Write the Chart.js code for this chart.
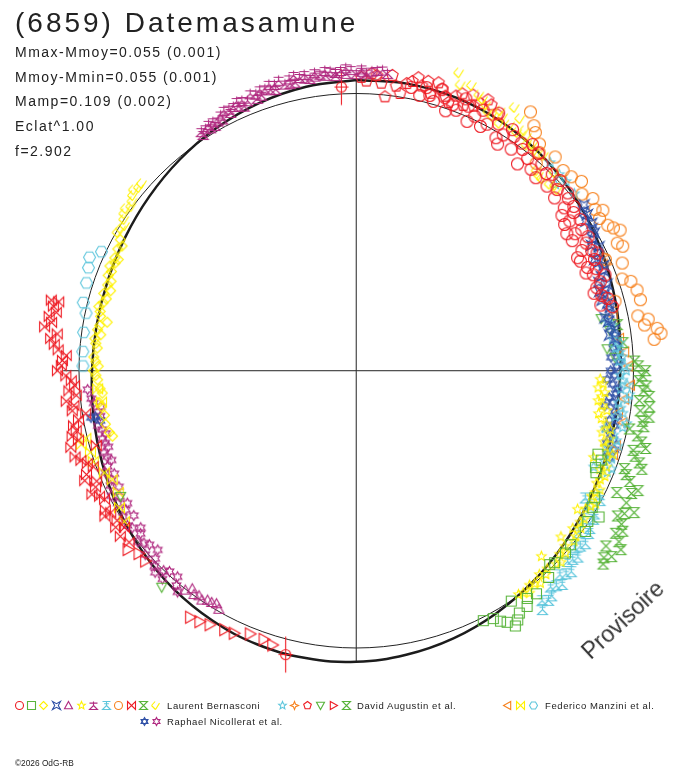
<!DOCTYPE html>
<html>
<head>
    <meta charset="utf-8">
    <style>
        body, html {
            margin: 0;
            padding: 0;
            background: #fff;
        }

        #container {
            position: relative;
            width: 688px;
            height: 768px;
            overflow: hidden;
            font-family: "Liberation Sans", Arial, sans-serif;
            color: #222;
        }

        #container canvas {
            position: absolute;
            left: 0;
            top: 0;
        }

        .txt {
            position: absolute;
            white-space: nowrap;
            line-height: 1;
        }

        #title { left: 15px; top: 9px; font-size: 28px; letter-spacing: 3px; }
        .stat { left: 15px; font-size: 14px; letter-spacing: 1.5px; }
        .leg { font-size: 9.5px; letter-spacing: 0.6px; }
        #copy { left: 15px; top: 759px; font-size: 8.3px; }
        #stamp {
            left: 623px; top: 620px; font-size: 23px; color: #333;
            transform: translate(-50%, -50%) rotate(-43deg);
        }
    </style>
    <script src="https://cdn.jsdelivr.net/npm/chart.js"></script>
</head>
<body>
    <div id="container">
        <canvas id="polarChart" width="688" height="768"></canvas>
        <div id="title" class="txt"></div>
        <div id="stats"></div>
        <div id="legendText"></div>
        <div id="stamp" class="txt">Provisoire</div>
        <div id="copy" class="txt">©2026 OdG-RB</div>
    </div>

    <script>
        // ---- text ----
        const chartTitle = "(6859) Datemasamune";
        const statLines = [
            "Mmax-Mmoy=0.055 (0.001)",
            "Mmoy-Mmin=0.055 (0.001)",
            "Mamp=0.109 (0.002)",
            "Eclat^1.00",
            "f=2.902"
        ];
        const observers = ["Laurent Bernasconi", "David Augustin et al.", "Federico Manzini et al.", "Raphael Nicollerat et al."];

        // ---- data: [rotation phase (deg), magnitude offset (mag)] ----
        const lbCircleRed = [[11,.045],[13,.020],[14,.058],[15,.030],[16,.010],[17,.067],[18,.040],[19,-.012],[20,.022],
            [21,.005],[22,.064],[23,.040],[24,-.020],[25,.013],[26,.050],[27,-.015],[28,.006],[29,.069],[30,.030],[31,-.025],
            [32,.001],[32,-.044],[33,.040],[34,.020],[35,-.030],[36,.015],[37,-.003],[38,.038],[38,-.064],[39,-.020],
            [40,.025],[41,-.045],[42,.001],[43,-.058],[44,-.015],[45,.000],[46,-.050],[47,.005],[48,-.029],[49,-.060],
            [50,-.005],[51,-.018],[52,-.055],[53,-.082],[53,-.020],[54,-.036],[55,-.069],[55,-.095],[56,-.030],[57,-.109],
            [58,-.047],[58,-.080],[59,-.105],[60,-.040],[61,-.060],[62,-.090],[63,-.054],[63,-.120],[64,-.116],[64,-.039],
            [65,-.060],[66,-.100],[67,-.069],[67,-.115],[68,-.090],[69,-.045],[70,-.073],[71,-.095],[72,-.113],[73,-.085],
            [74,-.065],[75,-.100],[76,-.055]];
        const lbSquareGreen = [[109,-.090],[110,-.069],[112,-.080],[113,-.070],[118,-.030],[120,-.020],[121,.025],[123,-.005],
            [125,.010],[129,-.006],[131,.000],[134,-.006],[135,-.015],[137,.020],[141,.038],[143,.030],[144,.056],[146,.060],
            [146,.000],[147,.080],[148,.096],[149,.065],[150,.047],[151,.023],[153,.011]];
        const lbDiamondYellow = [[255,-.104],[256,-.095],[258,-.087],[260,-.090],[262,-.082],[263,-.075],[265,-.093],[266,-.085],
            [268,-.077],[269,-.070],[270,-.060],[271,-.080],[272,-.069],[273,-.060],[275,-.072],[276,-.064],[277,-.058],
            [278,-.080],[279,-.064],[280,-.070],[281,-.098],[282,-.066],[283,-.060],[284,-.050],[285,-.063],[286,-.072],
            [287,-.055],[288,-.079],[289,-.060],[290,-.068],[291,-.048],[292,-.055],[293,-.040],[294,-.055],[295,-.045],
            [295,-.061],[297,-.040],[298,-.050],[299,-.031]];
        const lbConcaveBlue = [[54,.018],[55,.000],[56,.007],[57,-.015],[58,.002],[59,-.009],[60,-.009],[61,-.028],[62,-.045],
            [63,-.020],[64,-.036],[65,-.060],[66,-.049],[67,-.034],[68,-.045],[69,-.062],[70,-.080],[71,-.050],[72,-.064],
            [72,-.089],[73,-.075],[74,-.090],[75,-.071],[76,-.065],[77,-.075],[78,-.096],[79,-.085],[80,-.078],[81,-.065],
            [82,-.090],[83,-.069]];
        const lbTriMagenta = [[210,-.010],[211,-.025],[212,-.019],[213,-.018],[214,-.005],[215,-.013],[216,-.005],[217,-.020],[218,.002]];
        const lbStarYellow = [[92,-.138],[93,-.125],[94,-.145],[95,-.115],[96,-.128],[97,-.140],[98,-.120],[99,-.098],
            [100,-.130],[101,-.115],[102,-.090],[103,-.069],[104,-.100],[105,-.060],[106,-.083],[107,-.070],[108,-.032],
            [109,-.050],[110,-.103],[111,-.038],[112,-.060],[113,-.030],[114,-.042],[115,-.050],[116,-.025],[117,-.038],
            [118,-.045],[119,-.015],[120,-.027],[121,-.040],[122,-.068],[123,-.023],[124,-.030],[125,-.013],[126,-.040],
            [127,-.010],[128,-.004],[129,-.058],[130,-.020],[131,.000],[132,-.015],[133,.012],[134,.002],[135,-.064],
            [136,-.010],[137,.003],[138,-.015],[139,.015],[140,.001],[141,-.008],[142,.018],[143,.001],[144,-.005]];
        const lbStemMagenta = [[327,.016],[327,.030],[328,.031],[329,.023],[329,.040],[330,.040],[330,.022],[331,.032],
            [332,.049],[332,.030],[333,.060],[334,.040],[334,.055],[335,.057],[336,.049],[336,.070],[337,.065],[337,.040],
            [338,.055],[339,.078],[340,.069],[340,.050],[341,.056],[341,.080],[342,.077],[343,.066],[343,.090],[344,.083],
            [344,.062],[345,.095],[346,.073],[347,.090],[347,.070],[348,.071],[348,.100],[349,.087],[350,.080],[350,.095],
            [351,.075],[352,.096],[352,.082],[353,.087],[354,.080],[354,.100],[355,.095],[356,.088],[356,.075],[357,.095],
            [358,.082],[358,.105],[359,.097],[0,.080],[1,.090],[1,.100],[2,.083],[3,.092],[4,.096],[5,.100],[6,.088]];
        const lbStemCyan = [[117,-.020],[118,-.005],[119,-.064],[120,-.040],[121,.001],[122,.010],[123,-.025],[124,.018],
            [125,.025],[126,-.010],[127,.040],[128,.029],[129,.015],[130,.050],[131,.040],[132,.030],[133,.070],[134,.060],
            [135,.045],[136,.080],[137,.067],[138,.055],[139,.085],[140,.091],[141,.075],[142,.105]];
        const lbCircleOrange = [[34,.143],[36,.104],[37,.085],[39,.058],[40,.030],[41,-.012],[43,.060],[46,.043],[48,.050],
            [50,.070],[52,.038],[54,.063],[56,.045],[57,.070],[58,.040],[60,.055],[61,.070],[62,.090],[64,.055],[65,.070],
            [66,-.019],[68,.040],[71,.016],[72,.048],[74,.062],[75,-.039],[76,.065],[79,.040],[80,.080],[81,.061],[82,.111],
            [83,.124],[84,.093]];
        const lbBowtieRed = [[233,.030],[235,.045],[236,.010],[237,.040],[238,.020],[240,.026],[240,.054],[241,.040],[243,.022],
            [244,.035],[245,.060],[246,.034],[247,.020],[248,.065],[249,.049],[250,.011],[251,.030],[252,.051],[253,.070],
            [254,-.028],[255,.076],[256,.038],[257,.060],[258,.038],[259,.045],[260,.020],[261,-.014],[262,.040],[263,.030],
            [264,.060],[265,.016],[266,.045],[267,.020],[268,.033],[269,.055],[270,.090],[271,.074],[272,.070],[273,.055],
            [274,.090],[275,.108],[276,.125],[277,.100],[278,.156],[279,.130],[280,.144],[281,.118],[282,.135],[283,.149],[283,.117]];
        const lbHourglassGreen = [[88,.005],[89,.020],[90,.050],[91,.037],[92,.025],[93,.055],[94,.045],[95,.070],[96,.031],
            [97,.076],[98,.040],[99,.080],[100,.055],[101,.065],[102,.009],[103,.048],[104,.070],[105,.093],[106,.045],
            [107,.060],[108,.085],[109,.103],[110,.034],[111,.050],[112,.074],[113,.120],[114,.100],[115,.043],[116,.097],
            [117,.144],[118,.110],[119,.090],[120,.121],[121,.140],[122,.120],[123,.150],[124,.175],[125,.115],[126,.160],
            [127,.137],[128,.150]];
        const lbCheckYellow = [[19,.155],[20,.110],[22,.124],[24,.100],[25,.089],[26,.075],[27,.053],[28,.045],[29,.080],
            [30,.033],[30,.064],[31,.122],[32,.050],[33,.095],[34,.040],[35,.063],[36,.050],[37,.020],[38,.037],[39,.025],
            [41,.032],[42,-.035],[43,-.043],[44,-.045],[45,.010],[46,-.038],[47,-.025],[48,-.030],[300,-.005],[301,-.010],
            [302,-.016],[303,.000],[304,.013],[305,.020],[306,.006],[307,.015],[308,.028],[309,.040],[310,.030],[311,.031]];

        const daStarCyan = [[43,.029],[46,.020],[47,-.020],[48,.021],[51,.014],[79,-.090],[80,-.075],[82,-.068],[83,-.080],
            [84,-.050],[85,-.070],[86,-.054],[87,-.045],[88,-.060],[89,-.037],[90,-.030],[91,-.055],[92,-.044],[93,-.025],
            [94,-.050],[95,-.012],[96,-.020],[97,-.055],[98,-.042],[99,-.030],[100,-.060],[101,-.007],[102,-.020],
            [103,-.091],[104,-.050],[105,-.033],[106,-.020],[107,-.060],[108,-.044],[109,-.030],[110,-.055],[111,-.015],
            [112,-.027],[112,-.088]];
        const daStar4Orange = [[65,-.018],[67,-.020]];
        const daPentagonRed = [[1,.065],[2,.050],[3,.082],[4,.075],[5,.045],[6,-.010],[7,.082],[8,.040],[9,.012],[10,.057],
            [11,.070],[12,.090],[13,.060],[14,.085],[15,.039],[16,.090],[17,.070],[18,.045],[19,.024],[20,.060],[21,.078],
            [22,.035],[23,.090],[24,.049],[25,.070],[26,.098],[27,.085],[29,.061]];
        const daTriDownGreen = [[78,-.112],[81,-.085],[85,-.106],[87,-.076],[222,.056],[242,-.043]];
        const daTriRightRed = [[197,.037],[199,.026],[202,.025],[205,.049],[207,.053],[210,.064],[212,.075],[214,.081],
            [228,.027],[230,.027],[232,.052]];
        const daHourglassGreen = [[80,-.051],[84,-.038]];

        const fmTriLeftOrange = [[78,-.061],[83,-.050],[86,-.034],[89,-.020],[93,-.011],[96,-.031],[99,-.049],[101,-.023],
            [106,-.028],[108,-.028]];
        const fmBowtieYellow = [[237,-.003],[240,-.016],[243,-.042],[246,-.042],[248,-.023],[251,.004],[253,.003],[255,.031],
            [256,.006],[263,-.086],[266,-.075]];
        const fmHexCyan = [[271,-.016],[274,-.013],[278,-.008],[282,-.004],[284,.017],[288,.027],[291,.040],[293,.052],[295,.016]];

        const rnHexagramBlue = [[84,-.064],[85,-.080],[86,-.060],[87,-.092],[88,-.056],[89,-.070],[90,-.095],[91,-.078],
            [92,-.109],[93,-.085],[94,-.062],[95,-.070],[96,-.095],[97,-.077],[98,-.109],[99,-.065],[100,-.051],[101,-.080],
            [102,-.055],[103,-.085],[104,-.062],[105,-.045],[106,-.070],[107,-.030],[108,-.055],[109,-.038],[259,-.069],
            [260,-.033],[260,-.051]];
        const rnStar6Magenta = [[219,.028],[220,.010],[221,-.020],[223,.029],[223,-.014],[224,.000],[225,.030],[226,.014],
            [227,-.010],[228,-.042],[229,.010],[230,-.030],[231,-.017],[232,.000],[233,-.030],[234,-.045],[235,-.016],
            [236,-.005],[237,-.050],[238,-.009],[239,-.035],[240,-.054],[241,-.019],[242,-.040],[243,-.010],[244,-.055],
            [245,-.025],[246,-.040],[247,-.060],[248,-.027],[249,-.045],[250,-.070],[251,-.057],[252,-.050],[253,-.075],
            [254,-.067],[255,-.060],[256,-.080],[257,-.069],[258,-.055],[260,-.073],[261,-.065],[262,-.080],[263,-.053],
            [264,-.045],[266,-.033]];
        const flaggedRed = [[357,.026],[194,.061]];

        // fitted lightcurve (model), every 10 deg of rotation phase
        const modelCurve = [[0,.054],[10,.057],[20,.054],[30,.044],[40,.029],[50,.010],[60,-.010],[70,-.029],[80,-.044],
            [90,-.054],[100,-.057],[110,-.054],[120,-.044],[130,-.029],[140,-.010],[150,.010],[160,.029],[170,.044],
            [180,.055],[190,.058],[200,.055],[210,.044],[220,.029],[230,.010],[240,-.010],[250,-.029],[260,-.044],
            [270,-.054],[280,-.057],[290,-.054],[300,-.044],[310,-.029],[320,-.010],[330,.010],[340,.029],[350,.044],[360,.054]];

        // ---- plot geometry / styles ----
        const MAG_SCALE = 245 / 283;   // radius units per magnitude
        const COL = {
            red: "#ee1c24", green: "#58b43a", yellow: "#fff200", blue: "#2e4fa6",
            magenta: "#b02a80", cyan: "#5ec6dc", orange: "#f7821e"
        };

        function makeMarker(shape, color, s) {
            const w = 2 * Math.ceil(s) + 5;
            const h = shape === "flag" ? 41 : w;
            const cv = document.createElement("canvas");
            cv.width = w;
            cv.height = h;
            const g = cv.getContext("2d");
            g.translate(w / 2, h / 2);
            g.strokeStyle = color;
            g.lineWidth = 1.1;
            const poly = (pts) => {
                g.beginPath();
                pts.forEach((p, i) => i ? g.lineTo(p[0], p[1]) : g.moveTo(p[0], p[1]));
                g.closePath();
                g.stroke();
            };
            const lines = (segs) => {
                g.beginPath();
                segs.forEach(sg => { g.moveTo(sg[0], sg[1]); g.lineTo(sg[2], sg[3]); });
                g.stroke();
            };
            const ngon = (k, r, rot) => Array.from({length: k}, (_, i) => {
                const a = rot + i * 2 * Math.PI / k;
                return [r * Math.sin(a), -r * Math.cos(a)];
            });
            const star = (k, ro, ri) => Array.from({length: 2 * k}, (_, i) => {
                const r = i % 2 ? ri : ro, a = i * Math.PI / k;
                return [r * Math.sin(a), -r * Math.cos(a)];
            });
            switch (shape) {
                case "circle": g.beginPath(); g.arc(0, 0, s, 0, 2 * Math.PI); g.stroke(); break;
                case "square": poly([[-s, -s], [s, -s], [s, s], [-s, s]]); break;
                case "diamond": poly([[0, -s], [s, 0], [0, s], [-s, 0]]); break;
                case "concave4": poly([[-s, -s], [0, -s * 0.45], [s, -s], [s * 0.45, 0], [s, s], [0, s * 0.45], [-s, s], [-s * 0.45, 0]]); break;
                case "triangle": poly([[0, -s], [s, s * 0.8], [-s, s * 0.8]]); break;
                case "triDown": poly([[-s, -s * 0.8], [s, -s * 0.8], [0, s]]); break;
                case "triRight": poly([[-s * 0.8, -s], [s, 0], [-s * 0.8, s]]); break;
                case "triLeft": poly([[s * 0.8, -s], [-s, 0], [s * 0.8, s]]); break;
                case "star5": poly(star(5, s, s * 0.45)); break;
                case "star4": poly(star(4, s, s * 0.4)); break;
                case "star6": poly(star(6, s, s * 0.55)); break;
                case "pentagon": poly(ngon(5, s, 0)); break;
                case "hexagon": poly(ngon(6, s, Math.PI / 6)); break;
                case "hexagram": poly(ngon(3, s, 0)); poly(ngon(3, s, Math.PI)); break;
                case "bowtie": poly([[-s, -s], [s, s], [s, -s], [-s, s]]); break;
                case "hourglass": poly([[-s, -s], [s, -s], [-s, s], [s, s]]); break;
                case "check": lines([[-s * 0.1, -s, -s, 0], [-s, 0, 0, s], [0, s, s, -s * 0.6]]); break;
                case "stemTri":
                    poly([[0, 0], [s, s], [-s, s]]);
                    lines([[0, 0, 0, -s], [-s, -s * 0.6, s, -s * 0.6]]);
                    break;
                case "stemTri2":
                    poly([[0, 0], [s, s], [-s, s]]);
                    lines([[0, 0, 0, -s], [-s, -s, s, -s], [-s * 0.6, -s * 0.45, s * 0.6, -s * 0.45]]);
                    break;
                case "flag":
                    g.beginPath(); g.arc(0, 0, s, 0, 2 * Math.PI); g.stroke();
                    lines([[0, -18, 0, 18], [-s - 2, 0, s + 2, 0]]);
                    break;
            }
            return cv;
        }

        const series = [
            {data: lbCircleRed, color: COL.red, shape: "circle", size: 6},
            {data: lbSquareGreen, color: COL.green, shape: "square", size: 5},
            {data: lbDiamondYellow, color: COL.yellow, shape: "diamond", size: 5},
            {data: lbConcaveBlue, color: COL.blue, shape: "concave4", size: 5},
            {data: lbTriMagenta, color: COL.magenta, shape: "triangle", size: 5},
            {data: lbStarYellow, color: COL.yellow, shape: "star5", size: 5},
            {data: lbStemMagenta, color: COL.magenta, shape: "stemTri", size: 5},
            {data: lbStemCyan, color: COL.cyan, shape: "stemTri2", size: 5},
            {data: lbCircleOrange, color: COL.orange, shape: "circle", size: 6},
            {data: lbBowtieRed, color: COL.red, shape: "bowtie", size: 5},
            {data: lbHourglassGreen, color: COL.green, shape: "hourglass", size: 5},
            {data: lbCheckYellow, color: COL.yellow, shape: "check", size: 5},
            {data: daStarCyan, color: COL.cyan, shape: "star5", size: 5},
            {data: daStar4Orange, color: COL.orange, shape: "star4", size: 5},
            {data: daPentagonRed, color: COL.red, shape: "pentagon", size: 6},
            {data: daTriDownGreen, color: COL.green, shape: "triDown", size: 5},
            {data: daTriRightRed, color: COL.red, shape: "triRight", size: 6},
            {data: daHourglassGreen, color: COL.green, shape: "hourglass", size: 5},
            {data: fmTriLeftOrange, color: COL.orange, shape: "triLeft", size: 5},
            {data: fmBowtieYellow, color: COL.yellow, shape: "bowtie", size: 5},
            {data: fmHexCyan, color: COL.cyan, shape: "hexagon", size: 6},
            {data: rnHexagramBlue, color: COL.blue, shape: "hexagram", size: 5},
            {data: rnStar6Magenta, color: COL.magenta, shape: "star6", size: 5},
            {data: flaggedRed, color: COL.red, shape: "flag", size: 5}
        ];

        // legend rows: observer index, first marker x, row centre y, series indexes
        const legendRows = [
            {obs: 0, x: 19, y: 705, step: 12.45, items: [0, 1, 2, 3, 4, 5, 6, 7, 8, 9, 10, 11], textX: 167},
            {obs: 1, x: 282, y: 705, step: 12.8, items: [12, 13, 14, 15, 16, 17], textX: 357},
            {obs: 2, x: 507, y: 705, step: 13, items: [18, 19, 20], textX: 545},
            {obs: 3, x: 144, y: 721, step: 12.45, items: [21, 22], textX: 167}
        ];

        function toXY(p) {
            const r = 1 + p[1] * MAG_SCALE;
            const a = p[0] * Math.PI / 180;
            return {x: r * Math.sin(a), y: r * Math.cos(a)};
        }

        // ---- text overlay ----
        document.getElementById("title").textContent = chartTitle;
        const statsBox = document.getElementById("stats");
        statLines.forEach((s, i) => {
            const d = document.createElement("div");
            d.className = "txt stat";
            d.style.top = (44.8 + i * 24.75) + "px";
            d.textContent = s;
            statsBox.appendChild(d);
        });
        const legendBox = document.getElementById("legendText");
        legendRows.forEach(row => {
            const d = document.createElement("div");
            d.className = "txt leg";
            d.style.left = row.textX + "px";
            d.style.top = (row.y - 4) + "px";
            d.textContent = observers[row.obs];
            legendBox.appendChild(d);
        });

        // ---- chart ----
        series.forEach(s => {
            s.marker = makeMarker(s.shape, s.color, s.size);
            s.legendMarker = makeMarker(s.shape, s.color, 4);
        });

        const frame = {
            id: "frame",
            beforeDatasetsDraw(chart) {
                const ctx = chart.ctx, sx = chart.scales.x, sy = chart.scales.y;
                const cx = sx.getPixelForValue(0), cy = sy.getPixelForValue(0);
                const R = sx.getPixelForValue(1) - cx;
                ctx.save();
                ctx.strokeStyle = "#222";
                ctx.lineWidth = 1;
                ctx.beginPath();
                ctx.arc(cx, cy, R, 0, 2 * Math.PI);
                ctx.moveTo(sx.getPixelForValue(-1.057), cy);
                ctx.lineTo(sx.getPixelForValue(1.057), cy);
                ctx.moveTo(cx, sy.getPixelForValue(1.046));
                ctx.lineTo(cx, sy.getPixelForValue(-1.049));
                ctx.stroke();
                ctx.restore();
            },
            afterDraw(chart) {
                const ctx = chart.ctx;
                legendRows.forEach(row => {
                    row.items.forEach((k, i) => {
                        const m = series[k].legendMarker;
                        ctx.drawImage(m, Math.round(row.x + i * row.step - m.width / 2), Math.round(row.y - m.height / 2));
                    });
                });
            }
        };

        const datasets = [{
            type: "line",
            label: "model",
            data: modelCurve.map(toXY),
            showLine: true,
            borderColor: "#1c1c1c",
            borderWidth: 2.5,
            pointRadius: 0,
            tension: 0.4,
            fill: false,
            order: 1
        }];
        series.forEach((s, i) => {
            datasets.push({
                label: "s" + i,
                data: s.data.map(toXY),
                pointStyle: s.marker,
                pointRadius: s.size,
                showLine: false,
                order: 0
            });
        });

        const polarChart = new Chart(document.getElementById("polarChart"), {
            type: "scatter",
            data: {datasets: datasets},
            options: {
                responsive: false,
                animation: false,
                layout: {padding: 0},
                plugins: {legend: {display: false}, tooltip: {enabled: false}},
                scales: {
                    x: {type: "linear", min: -356.5 / 283, max: 331.5 / 283, display: false},
                    y: {type: "linear", min: -397.5 / 283, max: 370.5 / 283, display: false}
                }
            },
            plugins: [frame]
        });
    </script>
</body>
</html>
